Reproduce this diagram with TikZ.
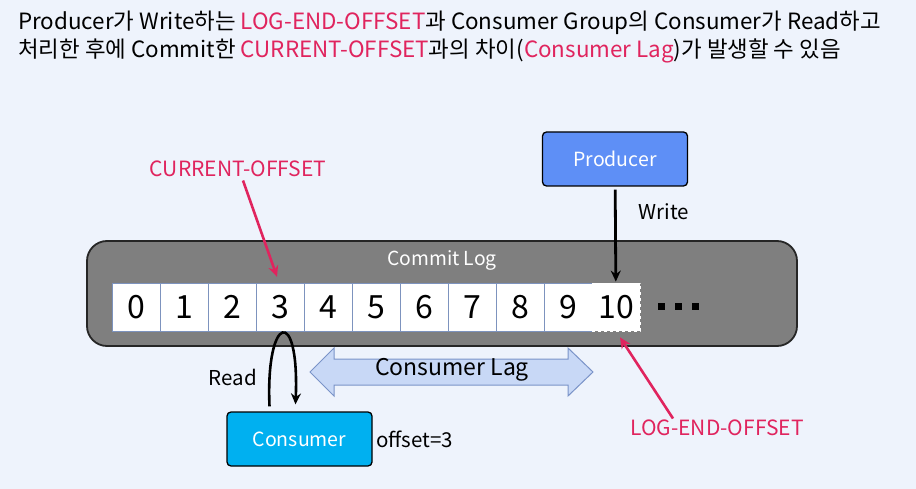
\documentclass[tikz,border=0pt]{standalone}
\usepackage{fontspec}
\setmainfont{Noto Sans CJK KR}
\usepackage{xcolor}
\usetikzlibrary{positioning, arrows.meta}

\definecolor{pagebg}{HTML}{EEF3FC}
\definecolor{hotred}{HTML}{E0245E}
\definecolor{loggray}{HTML}{7F7F7F}
\definecolor{cellline}{HTML}{7D93BE}
\definecolor{prodblue}{HTML}{5E8FF6}
\definecolor{conscyan}{HTML}{00B0F0}
\definecolor{lagfill}{HTML}{C8D8F6}
\definecolor{lagline}{HTML}{7A93C8}

\begin{document}
\begin{tikzpicture}[x=1pt, y=-1pt, >={Stealth[length=11pt, width=10pt]},
    title/.style={anchor=base west, inner sep=0pt, font=\fontsize{22.4}{26}\selectfont},
    cell/.style={draw=cellline, fill=white, minimum size=48pt, inner sep=0pt,
        font=\fontsize{32}{32}\selectfont},
    actor/.style={draw=black, line width=1.3pt, rounded corners=4pt, text=white,
        minimum width=145pt, minimum height=54pt, font=\fontsize{19.5}{20}\selectfont},
    plain/.style={font=\fontsize{20.5}{21}\selectfont},
    redlabel/.style={text=hotred, font=\fontsize{21}{21}\selectfont},
    redarrow/.style={->, hotred, line width=2.6pt}]

    % Background and page size
    \fill[pagebg] (0,0) rectangle (916,489);
    \useasboundingbox (0,0) rectangle (916,489);

    % Heading
    \node[title] (head1) at (18,30)
        {Producer가 Write하는 \textcolor{hotred}{LOG-END-OFFSET}과 Consumer Group의 Consumer가 Read하고};
    \node[title] (head2) at (18,58)
        {처리한 후에 Commit한 \textcolor{hotred}{CURRENT-OFFSET}과의 차이(\textcolor{hotred}{Consumer Lag})가 발생할 수 있음};

    % The commit log
    \node[draw=black!85, line width=1.8pt, fill=loggray, rounded corners=20pt,
        minimum width=710pt, minimum height=105pt] (log) at (442,293.5) {};
    \node[text=white, font=\fontsize{19.3}{20}\selectfont] (logname) at (442,260) {Commit Log};

    % Offsets
    \foreach \i in {0,...,9}
        \node[cell] (c\i) at (136+48*\i,307) {\i};
    \node[cell, draw=white, dashed, thick] (c10) at (616,307) {10};
    \foreach \k in {0,1,2}
        \fill (658+17*\k,303) rectangle ++(6.5,6.5);

    % Producer
    \node[actor, fill=prodblue] (producer) at (615,159) {Producer};
    \draw[->, line width=2.8pt, shorten <=3pt, shorten >=1pt] (producer) -- (c10);
    \node[plain] (write) at (664,212) {Write};

    % Consumer
    \node[actor, fill=conscyan] (consumer) at (299.5,439) {Consumer};
    \node[plain, right=0pt of consumer] (offset) {offset=3};
    \draw[->, line width=2.6pt] ([xshift=-30pt,yshift=5pt]consumer.north)
        .. controls +(-4,-92) and +(4,-100) .. ([xshift=-4pt,yshift=7pt]consumer.north);
    \node[plain] (read) at (233,377) {Read};

    % Offset markers
    \node[redlabel] (current) at (238,169) {CURRENT-OFFSET};
    \draw[redarrow] ([xshift=5pt]current.south) -- ([xshift=-3pt,yshift=6pt]c3.north);
    \node[redlabel] (logend) at (717,428) {LOG-END-OFFSET};
    \draw[redarrow] ([xshift=-44pt,yshift=-2pt]logend.north) -- ([xshift=4pt,yshift=-6pt]c10.south);

    % Lag
    \filldraw[fill=lagfill, draw=lagline, line width=1pt]
        (310,372) -- (334,348) -- (334,359) -- (568,359) -- (568,348) -- (593,372)
        -- (568,396) -- (568,385) -- (334,385) -- (334,396) -- cycle;
    \node[font=\fontsize{23}{23}\selectfont] (lag) at (452,370) {Consumer Lag};

\end{tikzpicture}
\end{document}
